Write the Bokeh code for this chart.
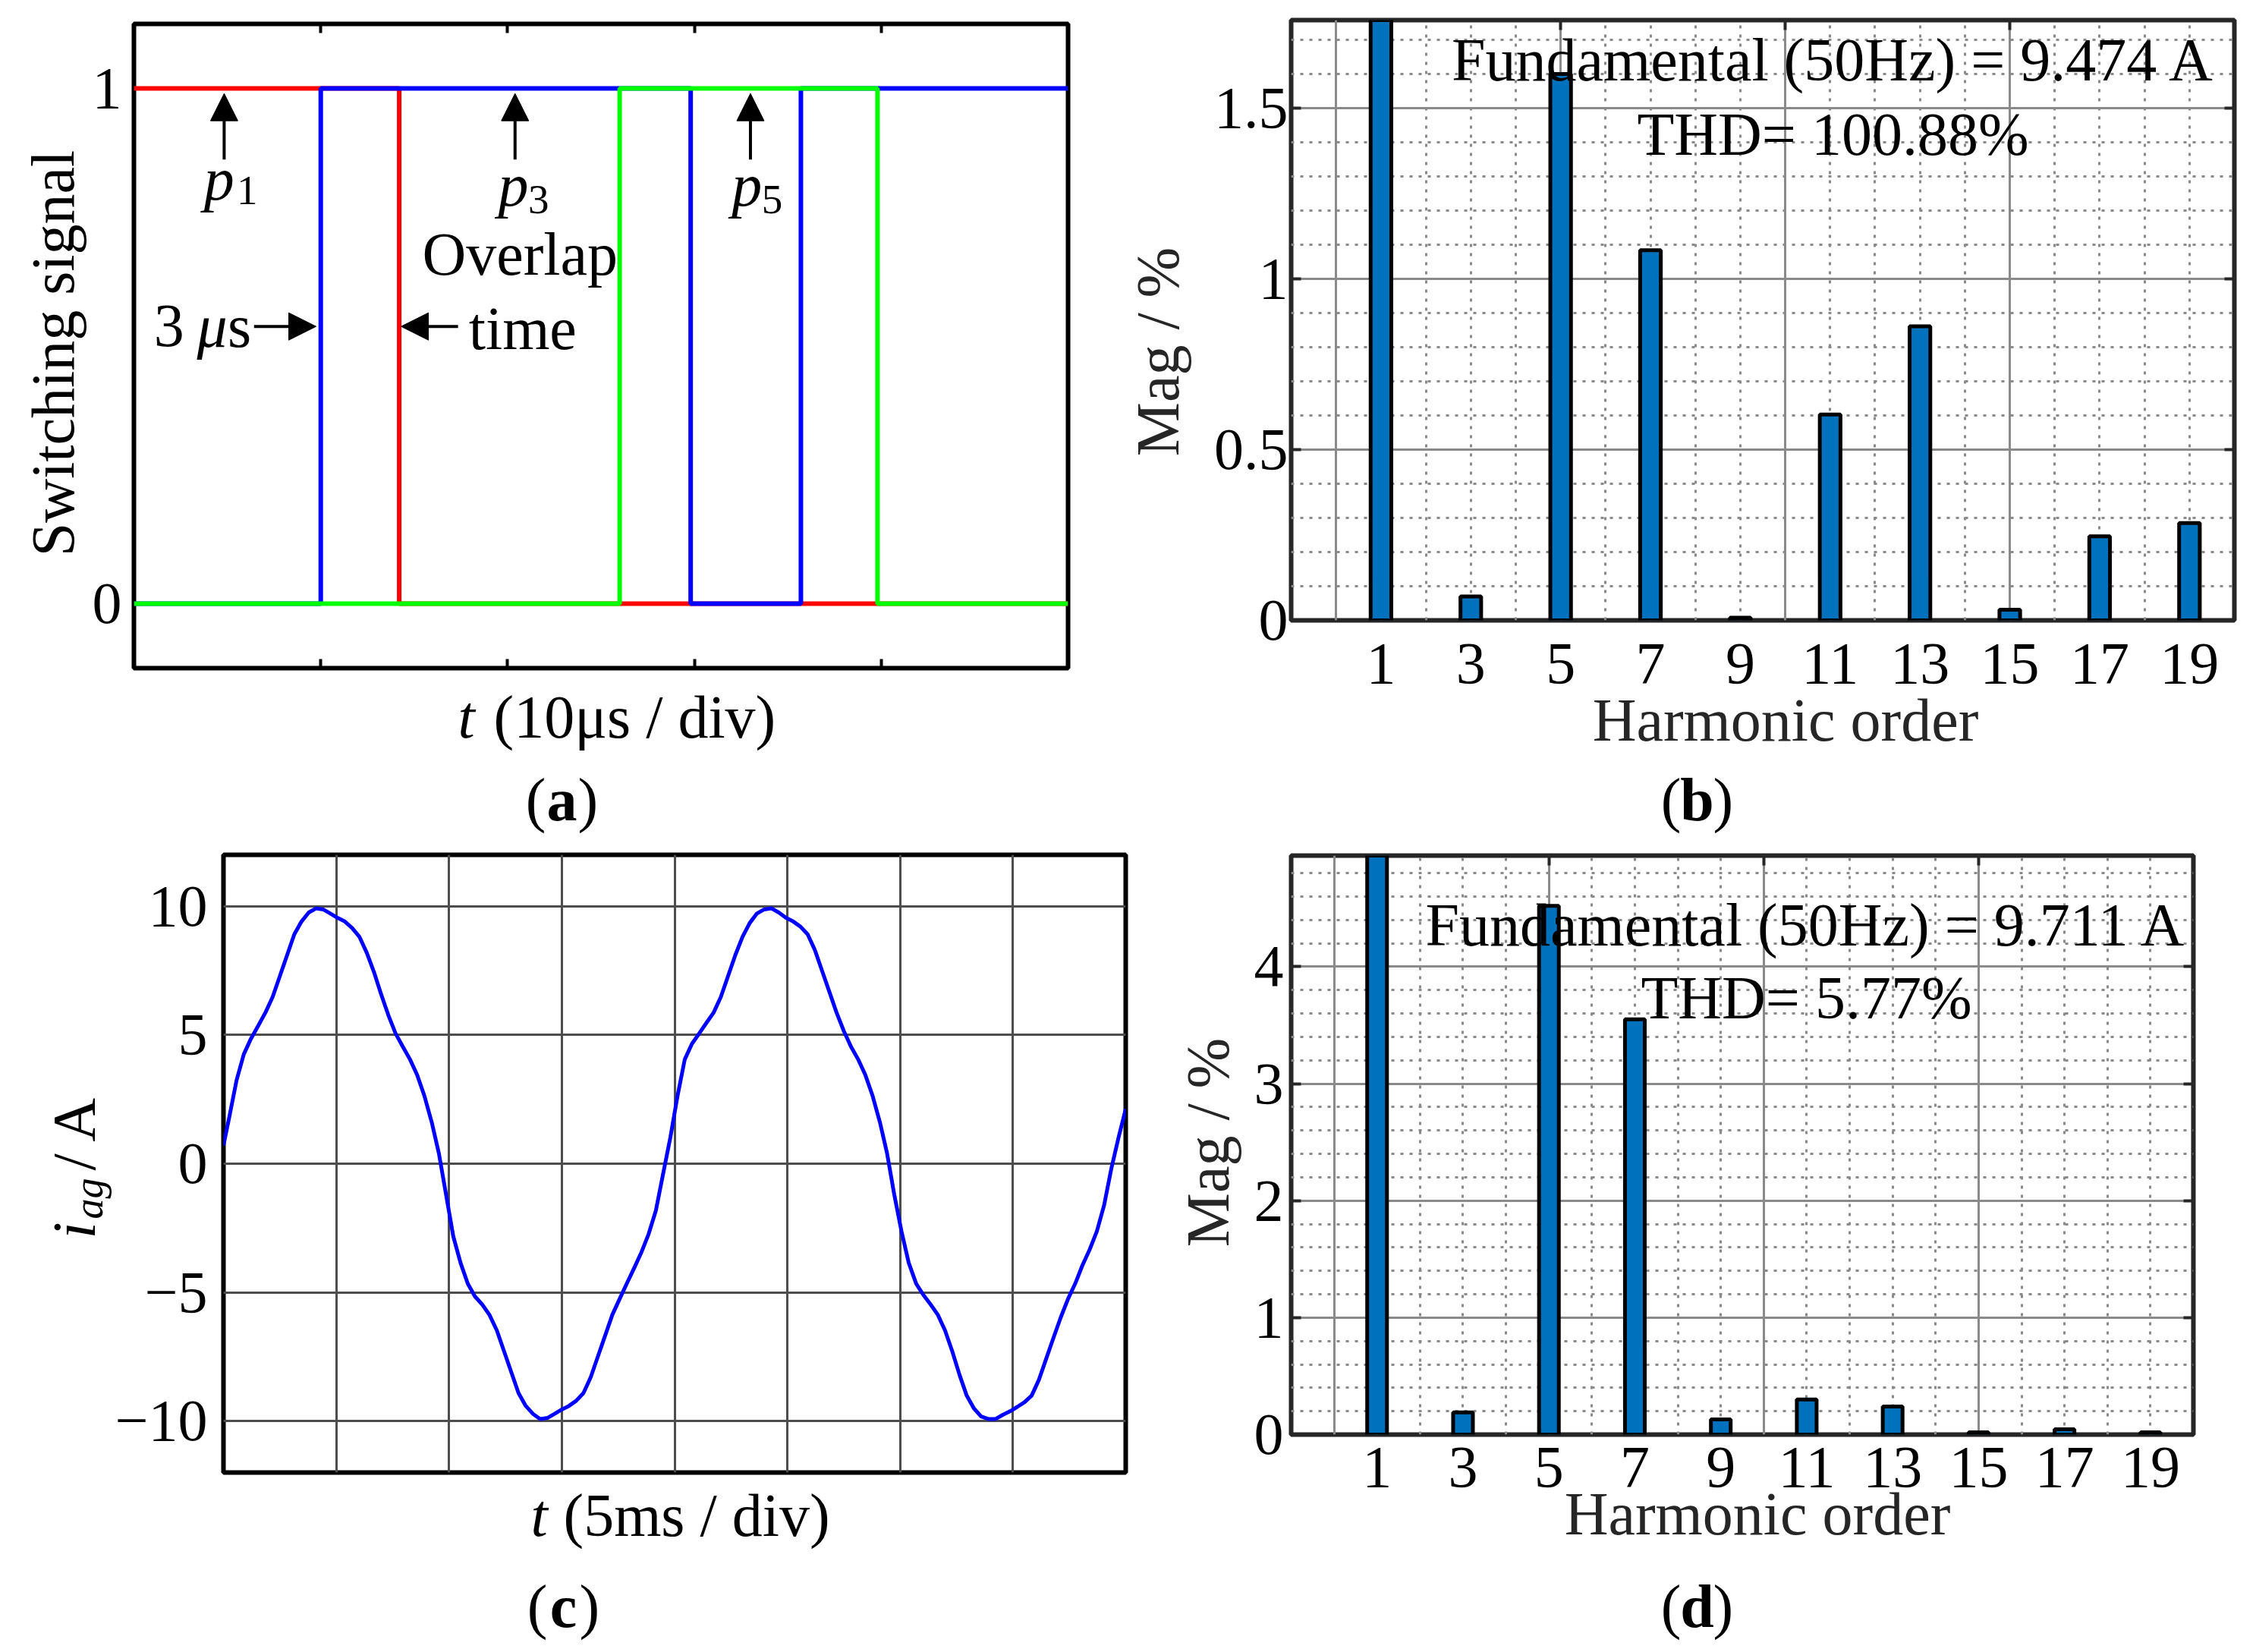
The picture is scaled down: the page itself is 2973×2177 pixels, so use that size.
import math
from bokeh.plotting import figure
from bokeh.models import Range1d, LinearAxis, FixedTicker, Grid, Label, Arrow, NormalHead
from bokeh.layouts import column, row
from bokeh.embed import file_html
from bokeh.resources import INLINE

FONT = "Liberation Serif"

# ---------------------------------------------------------------- data
# (a) switching signals, time in microseconds
p1_t = [0, 14.2, 14.2, 50]
p1_v = [1, 1, 0, 0]
p3_t = [0, 10, 10, 29.8, 29.8, 35.7, 35.7, 50]
p3_v = [0, 0, 1, 1, 0, 0, 1, 1]
p5_t = [0, 26, 26, 39.8, 39.8, 50]
p5_v = [0, 0, 1, 1, 0, 0]
a_xticks = [10, 20, 30, 40]
a_yticks = [0, 1]
a_ylabels = ["0", "1"]

# (b) / (d) harmonic spectra (Mag in % of fundamental)
harm_order = [1, 3, 5, 7, 9, 11, 13, 15, 17, 19]
harm_labels = ["1", "3", "5", "7", "9", "11", "13", "15", "17", "19"]
mag_b = [100, 0.07, 1.60, 1.084, 0.008, 0.603, 0.861, 0.031, 0.246, 0.285]
mag_d = [100, 0.19, 4.52, 3.55, 0.13, 0.30, 0.24, 0.02, 0.045, 0.02]
b_yticks = [0, 0.5, 1, 1.5]
b_ylabels = ["0", "0.5", "1", "1.5"]
d_yticks = [0, 1, 2, 3, 4]
d_ylabels = ["0", "1", "2", "3", "4"]
spec_major_x = [0, 5, 10, 15]
spec_minor_x = [1, 2, 3, 4, 6, 7, 8, 9, 11, 12, 13, 14, 16, 17, 18, 19]
b_minor_y = [0.1, 0.2, 0.3, 0.4, 0.6, 0.7, 0.8, 0.9, 1.1, 1.2, 1.3, 1.4, 1.6, 1.7]
d_minor_y = [0.2, 0.4, 0.6, 0.8, 1.2, 1.4, 1.6, 1.8, 2.2, 2.4, 2.6, 2.8,
             3.2, 3.4, 3.6, 3.8, 4.2, 4.4, 4.6, 4.8]

# (c) phase current i_ag (A) versus time (ms)
t_ms = [0.00, 0.26, 0.58, 0.90, 1.22, 1.54, 1.86, 2.18,
        2.50, 2.82, 3.14, 3.46, 3.78, 4.10, 4.42, 4.74,
        5.06, 5.38, 5.71, 6.03, 6.35, 6.67, 6.99, 7.31,
        7.63, 7.95, 8.27, 8.59, 8.91, 9.23, 9.55, 9.87,
        10.19, 10.51, 10.83, 11.15, 11.47, 11.79, 12.12, 12.44,
        12.76, 13.08, 13.40, 13.72, 14.04, 14.36, 14.68, 15.00,
        15.32, 15.64, 15.96, 16.28, 16.60, 16.92, 17.24, 17.56,
        17.88, 18.21, 18.53, 18.85, 19.17, 19.49, 19.81, 20.13,
        20.45, 20.77, 21.09, 21.41, 21.73, 22.05, 22.37, 22.69,
        23.01, 23.33, 23.65, 23.97, 24.29, 24.62, 24.94, 25.26,
        25.58, 25.90, 26.22, 26.54, 26.86, 27.18, 27.50, 27.82,
        28.14, 28.46, 28.78, 29.10, 29.42, 29.74, 30.06, 30.38,
        30.71, 31.03, 31.35, 31.67, 31.99, 32.31, 32.63, 32.95,
        33.27, 33.59, 33.91, 34.23, 34.55, 34.87, 35.19, 35.51,
        35.83, 36.15, 36.47, 36.79, 37.12, 37.44, 37.76, 38.08,
        38.40, 38.72, 39.04, 39.36, 39.68, 40.00]
i_ag = [0.71, 1.82, 3.24, 4.25, 4.86, 5.36, 5.87, 6.48,
        7.29, 8.10, 8.91, 9.41, 9.76, 9.92, 9.88, 9.72,
        9.55, 9.41, 9.15, 8.81, 8.20, 7.45, 6.58, 5.77,
        5.06, 4.55, 4.05, 3.44, 2.63, 1.62, 0.40, -1.21,
        -2.83, -3.85, -4.66, -5.16, -5.47, -5.87, -6.48, -7.29,
        -8.10, -8.91, -9.41, -9.72, -9.92, -9.88, -9.72, -9.55,
        -9.41, -9.21, -8.91, -8.30, -7.49, -6.68, -5.87, -5.26,
        -4.66, -4.05, -3.44, -2.73, -1.82, -0.40, 1.01, 2.63,
        4.05, 4.66, 5.06, 5.47, 5.87, 6.48, 7.29, 8.10,
        8.81, 9.35, 9.72, 9.88, 9.92, 9.76, 9.55, 9.41,
        9.21, 8.91, 8.30, 7.49, 6.68, 5.87, 5.16, 4.55,
        4.05, 3.44, 2.63, 1.62, 0.40, -1.21, -2.63, -3.85,
        -4.66, -5.10, -5.47, -5.87, -6.48, -7.29, -8.20, -9.01,
        -9.51, -9.82, -9.92, -9.92, -9.76, -9.62, -9.45, -9.27,
        -9.01, -8.40, -7.59, -6.78, -5.97, -5.26, -4.66, -3.95,
        -3.34, -2.63, -1.62, -0.20, 1.01, 2.13]
c_yticks = [-10, -5, 0, 5, 10]
c_ylabels = ["\u221210", "\u22125", "0", "5", "10"]
c_xgrid = [5, 10, 15, 20, 25, 30, 35]

TICK_PX = 78
TEXT_PX = 80
BASE_K = 0.3375   # label anchor sits this many em above the glyph baseline


# ---------------------------------------------------------------- helpers
def _label(p, x, y, s, size=TEXT_PX, style="normal", align="left",
           angle=0.0, color="black"):
    p.add_layout(Label(x=x, y=y, text=s, text_font=FONT,
                       text_font_size=f"{size}px", text_font_style=style,
                       text_align=align, text_baseline="alphabetic",
                       angle=angle, text_color=color))


class TextFig:
    """A figure without axes whose frame fills it; its data units are page pixels (y down)."""
    def __init__(self, box):
        x0, y0, x1, y1 = box
        self.p = figure(width=x1 - x0, height=y1 - y0,
                        x_range=Range1d(x0, x1), y_range=Range1d(y1, y0),
                        x_axis_type=None, y_axis_type=None,
                        output_backend="svg", toolbar_location=None,
                        min_border=0, frame_align=False)
        self.p.outline_line_color = None
        self.p.background_fill_color = "white"
        self.p.border_fill_color = "white"

    def text(self, x, base_y, s, size=TEXT_PX, **kw):
        # horizontal text whose baseline lies at page row base_y
        _label(self.p, x, base_y - BASE_K * size, s, size=size, **kw)

    def vtext(self, base_x, y, s, size=TEXT_PX, **kw):
        # text rotated to read upward, baseline at page column base_x
        _label(self.p, base_x - BASE_K * size, y, s, size=size, angle=math.pi / 2, **kw)

    def caption(self, cx, base, letter):
        self.text(cx - 21, base, "(", align="right")
        self.text(cx, base, letter, style="bold", align="center")
        self.text(cx + 21, base, ")", align="left")


class Panel:
    def __init__(self, box, frame, xr, yr, outline):
        x0, y0, x1, y1 = box
        l, r, t, b = frame
        self.frame = frame
        self.xr = xr
        self.yr = yr
        self.p = figure(width=x1 - x0, height=y1 - y0,
                        x_range=Range1d(*xr), y_range=Range1d(*yr),
                        x_axis_type=None, y_axis_type=None,
                        output_backend="svg", toolbar_location=None,
                        min_border_left=l - x0, min_border_right=x1 - r,
                        min_border_top=t - y0, min_border_bottom=y1 - b,
                        frame_align=False)
        p = self.p
        p.outline_line_color = outline
        p.outline_line_width = 6
        p.outline_line_alpha = 1.0
        p.background_fill_color = "white"
        p.border_fill_color = "white"
        self.ppu = (b - t) / (yr[1] - yr[0])   # pixels per y unit

    def dx(self, px):
        l, r, t, b = self.frame
        return self.xr[0] + (px - l) / (r - l) * (self.xr[1] - self.xr[0])

    def dy(self, py):
        l, r, t, b = self.frame
        return self.yr[0] + (b - py) / (b - t) * (self.yr[1] - self.yr[0])

    def text(self, px, base_py, s, size=TEXT_PX, **kw):
        _label(self.p, self.dx(px), self.dy(base_py - BASE_K * size), s, size=size, **kw)

    def text_d(self, x, base_y, s, size=TEXT_PX, **kw):
        _label(self.p, x, base_y + BASE_K * size / self.ppu, s, size=size, **kw)

    def axis(self, side, ticks, labels=None, tick_in=0, tick_color="black",
             size=TICK_PX, standoff=10, tick_width=4):
        ax = LinearAxis(ticker=FixedTicker(ticks=ticks))
        ax.axis_line_color = None
        ax.major_tick_in = tick_in
        ax.major_tick_out = 0
        ax.major_tick_line_color = tick_color if tick_in else None
        ax.major_tick_line_width = tick_width
        ax.minor_tick_line_color = None
        if labels is None:
            ax.major_label_overrides = {tk: "" for tk in ticks}
            ax.major_label_text_font_size = "1px"
            ax.major_label_standoff = 0
        else:
            ax.major_label_overrides = dict(zip(ticks, labels))
            ax.major_label_text_font = FONT
            ax.major_label_text_font_size = f"{size}px"
            ax.major_label_standoff = standoff
            ax.major_label_text_color = "black"
        self.p.add_layout(ax, side)
        return ax

    def arrow(self, x0, y0, x1, y1):
        self.p.add_layout(Arrow(end=NormalHead(size=36, fill_color="black",
                                               line_color="black", line_width=1),
                                x_start=x0, y_start=y0, x_end=x1, y_end=y1,
                                line_color="black", line_width=4))


# ---------------------------------------------------------------- page geometry
# boxes are (x0, y0, x1, y1) in page pixels, frames are (left, right, top, bottom)
A = Panel((116, 0, 1468, 890), (176, 1407, 31, 880), (0, 50), (-0.125, 1.125), "black")
YA = TextFig((0, 0, 116, 890))
XA = TextFig((0, 890, 1468, 1100))

B = Panel((1578, 0, 2965, 1005), (1701, 2944, 26, 817), (-1, 20), (0, 1.758), "#262626")
YB = TextFig((1468, 0, 1578, 1005))
XB = TextFig((1468, 1005, 2965, 1100))

C = Panel((148, 1100, 1540, 1945), (290, 1483, 1126, 1940), (0, 40), (-12, 12), "black")
YC = TextFig((0, 1100, 148, 1945))
XC = TextFig((0, 1945, 1540, 2170))

D = Panel((1640, 1100, 2965, 2065), (1701, 2890, 1127, 1890), (-1, 20), (0, 4.95), "#262626")
YD = TextFig((1540, 1100, 1640, 2065))
XD = TextFig((1540, 2065, 2965, 2170))

# ---------------------------------------------------------------- (a)
pa = A.p
A.axis("left", a_yticks, a_ylabels, standoff=16)
A.axis("below", a_xticks, None, tick_in=12)
A.axis("above", a_xticks, None, tick_in=12)
pa.line(p1_t, p1_v, line_color="#FF0000", line_width=6)
pa.line(p3_t, p3_v, line_color="#0000FF", line_width=6)
pa.line(p5_t, p5_v, line_color="#00FF00", line_width=6)
for ax_x in (4.83, 20.4, 33.0):
    A.arrow(ax_x, 0.862, ax_x, 0.99)
A.text_d(3.75, 0.784, "p", style="italic")
A.text_d(5.5, 0.775, "1", size=55)
A.text_d(19.5, 0.772, "p", style="italic")
A.text_d(21.1, 0.757, "3", size=55)
A.text_d(32.0, 0.772, "p", style="italic")
A.text_d(33.6, 0.757, "5", size=55)
A.text_d(15.43, 0.638, "Overlap")
A.text_d(17.92, 0.494, "time")
A.text_d(1.07, 0.499, "3")
A.text_d(3.37, 0.499, "\u03bc", style="italic")
A.text_d(5.02, 0.499, "s")
A.arrow(6.43, 0.538, 9.75, 0.538)
A.arrow(17.35, 0.538, 14.3, 0.538)
YA.vtext(96, 465, "Switching signal", align="center")
XA.text(603, 971, "t", style="italic")
XA.text(650, 971, "(10\u03bcs / div)")
XA.caption(740, 1080, "a")


# ---------------------------------------------------------------- spectra
def spectrum(P, mags, yticks, ylabels, minor_y, ystand, xstand, lstand, xlabel):
    p = P.p
    p.add_layout(Grid(dimension=0, ticker=FixedTicker(ticks=spec_major_x, minor_ticks=spec_minor_x),
                      grid_line_color="#8a8a8a", grid_line_width=3,
                      minor_grid_line_color="#8a8a8a", minor_grid_line_width=3,
                      minor_grid_line_dash="4 8"))
    p.add_layout(Grid(dimension=1, ticker=FixedTicker(ticks=yticks[1:], minor_ticks=minor_y),
                      grid_line_color="#8a8a8a", grid_line_width=3,
                      minor_grid_line_color="#8a8a8a", minor_grid_line_width=3,
                      minor_grid_line_dash="4 8"))
    P.axis("left", yticks, ylabels, tick_in=13, tick_color="#262626", standoff=ystand)
    P.axis("right", yticks[1:], None, tick_in=13, tick_color="#262626")
    P.axis("above", spec_major_x[1:], None, tick_in=13, tick_color="#262626")
    xa = P.axis("below", harm_order, harm_labels, standoff=xstand)
    xa.axis_label = xlabel
    xa.axis_label_text_font = FONT
    xa.axis_label_text_font_size = f"{TEXT_PX}px"
    xa.axis_label_text_font_style = "normal"
    xa.axis_label_text_color = "#262626"
    xa.axis_label_standoff = lstand
    p.vbar(x=harm_order, top=mags, bottom=0, width=0.46,
           fill_color="#0072BD", line_color="black", line_width=5)


NB = "\u00a0"
spectrum(B, mag_b, b_yticks, b_ylabels, b_minor_y, 4, 31, 2, NB * 3 + "Harmonic order")
B.text(2416, 105, "Fundamental (50Hz) = 9.474 A", align="center")
B.text(2415, 203, "THD= 100.88%", align="center")
YB.vtext(1552, 463, "Mag / %", align="center", color="#262626")
XB.caption(2236, 1080, "b")

spectrum(D, mag_d, d_yticks, d_ylabels, d_minor_y, 10, 17, -11, NB * 2 + "Harmonic order")
D.text(2380, 1245, "Fundamental (50Hz) = 9.711 A", align="center")
D.text(2380, 1341, "THD= 5.77%", align="center")
YD.vtext(1618, 1505, "Mag / %", align="center", color="#262626")
XD.caption(2236, 2143, "d")

# ---------------------------------------------------------------- (c)
pc = C.p
pc.add_layout(Grid(dimension=0, ticker=FixedTicker(ticks=c_xgrid),
                   grid_line_color="#4d4d4d", grid_line_width=3))
pc.add_layout(Grid(dimension=1, ticker=FixedTicker(ticks=c_yticks),
                   grid_line_color="#4d4d4d", grid_line_width=3))
C.axis("left", c_yticks, c_ylabels, standoff=21)
pc.line(t_ms, i_ag, line_color="#0000FF", line_width=5, line_join="round")
YC.vtext(124, 1632, "i", style="italic")
YC.vtext(135, 1606, "ag", size=54, style="italic")
YC.vtext(124, 1542, "/ A")
XC.text(699, 2023, "t", style="italic")
XC.text(742, 2023, "(5ms / div)")
XC.caption(742, 2143, "c")

layout = column(
    row(column(row(YA.p, A.p), XA.p), column(row(YB.p, B.p), XB.p)),
    row(column(row(YC.p, C.p), XC.p), column(row(YD.p, D.p), XD.p)),
)
open("out.html", "w").write(file_html(layout, INLINE))
